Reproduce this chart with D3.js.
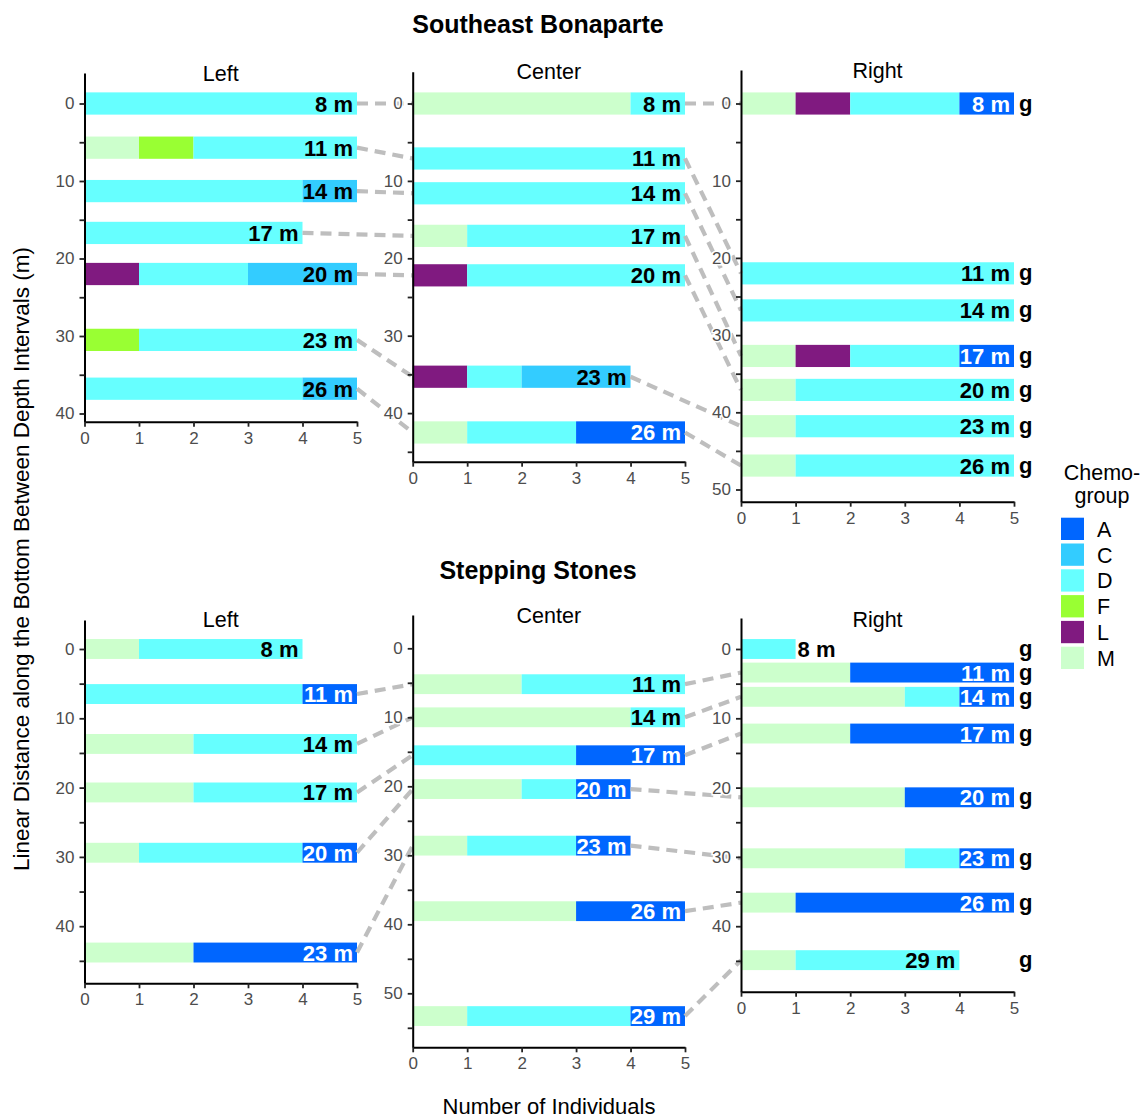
<!DOCTYPE html>
<html><head><meta charset="utf-8">
<script src="https://cdn.jsdelivr.net/npm/d3@7"></script>
<style>
body{margin:0;background:#fff}
text{font-family:"Liberation Sans",Arial,Helvetica,sans-serif}
</style>
</head><body>
<svg id="chart" width="1143" height="1119"></svg>
<script>
// ---------------- DATA ----------------
const chemogroups = ["A","C","D","F","L","M"];
const chemoColors = ["#0066FF","#33CCFF","#66FFFF","#99FF33","#801A80","#CCFFCC"];
const stackOrder = ["M","L","F","D","C","A"]; // order of the counts in each row below
const siteTitles = ["Southeast Bonaparte","Stepping Stones"];
const transectTitles = ["Left","Center","Right"];
const xTickValues = [0,1,2,3,4,5];

// Southeast Bonaparte
const sebLeftDepth = ["8 m","11 m","14 m","17 m","20 m","23 m","26 m"];
const sebLeftDist = [0,5.7,11.3,16.7,22.0,30.5,36.8];
const sebLeftCounts = [[0,0,0,5,0,0],[1,0,1,3,0,0],[0,0,0,4,1,0],[0,0,0,4,0,0],[0,1,0,2,2,0],[0,0,1,4,0,0],[0,0,0,4,1,0]];

const sebCenterDepth = ["8 m","11 m","14 m","17 m","20 m","23 m","26 m"];
const sebCenterDist = [0,7.1,11.6,17.1,22.2,35.3,42.5];
const sebCenterCounts = [[4,0,0,1,0,0],[0,0,0,5,0,0],[0,0,0,5,0,0],[1,0,0,4,0,0],[0,1,0,4,0,0],[0,1,0,1,2,0],[1,0,0,2,0,2]];

const sebRightDepth = ["8 m","11 m","14 m","17 m","20 m","23 m","26 m"];
const sebRightDist = [0,22.0,26.8,32.7,37.1,41.8,46.9];
const sebRightCounts = [[1,1,0,2,0,1],[0,0,0,5,0,0],[0,0,0,5,0,0],[1,1,0,2,0,1],[1,0,0,4,0,0],[1,0,0,4,0,0],[1,0,0,4,0,0]];
const sebRightNote = ["g","g","g","g","g","g","g"];

// Stepping Stones
const ssLeftDepth = ["8 m","11 m","14 m","17 m","20 m","23 m"];
const ssLeftDist = [0,6.5,13.7,20.7,29.4,43.8];
const ssLeftCounts = [[1,0,0,3,0,0],[0,0,0,4,0,1],[2,0,0,3,0,0],[2,0,0,3,0,0],[1,0,0,3,0,1],[2,0,0,0,0,3]];

const ssCenterDepth = ["11 m","14 m","17 m","20 m","23 m","26 m","29 m"];
const ssCenterDist = [5.2,10.0,15.5,20.4,28.6,38.1,53.3];
const ssCenterCounts = [[2,0,0,3,0,0],[4,0,0,1,0,0],[0,0,0,3,0,2],[2,0,0,1,0,1],[1,0,0,2,0,1],[3,0,0,0,0,2],[1,0,0,3,0,1]];

const ssRightDepth = ["8 m","11 m","14 m","17 m","20 m","23 m","26 m","29 m"];
const ssRightDist = [0,3.4,6.9,12.2,21.4,30.2,36.6,44.9];
const ssRightCounts = [[0,0,0,1,0,0],[2,0,0,0,0,3],[3,0,0,1,0,1],[2,0,0,0,0,3],[3,0,0,0,0,2],[3,0,0,1,0,1],[1,0,0,0,0,4],[1,0,0,3,0,0]];
const ssRightNote = ["g","g","g","g","g","g","g","g"];

// ---------------- LAYOUT ----------------
const panels = [
  {site:0, tr:0, depth:sebLeftDepth, dist:sebLeftDist, counts:sebLeftCounts, note:null,
   x:[84.5,357], top:73, bottom:421.7, zero:103.5, k:7.75, titleY:81},
  {site:0, tr:1, depth:sebCenterDepth, dist:sebCenterDist, counts:sebCenterCounts, note:null,
   x:[412.7,685], top:71.7, bottom:461.7, zero:103.5, k:7.74, titleY:78.5},
  {site:0, tr:2, depth:sebRightDepth, dist:sebRightDist, counts:sebRightCounts, note:sebRightNote,
   x:[741,1014], top:70, bottom:501.7, zero:103.5, k:7.72, titleY:77.5},
  {site:1, tr:0, depth:ssLeftDepth, dist:ssLeftDist, counts:ssLeftCounts, note:null,
   x:[84.5,357], top:620, bottom:983.3, zero:649, k:6.93, titleY:626.5},
  {site:1, tr:1, depth:ssCenterDepth, dist:ssCenterDist, counts:ssCenterCounts, note:null,
   x:[412.7,685], top:615, bottom:1047.3, zero:648.3, k:6.9, titleY:622.5},
  {site:1, tr:2, depth:ssRightDepth, dist:ssRightDist, counts:ssRightCounts, note:ssRightNote,
   x:[741,1014], top:618, bottom:991.7, zero:649, k:6.93, titleY:626.5}
];
const barThick = 2.87;
const color = d3.scaleOrdinal().domain(chemogroups).range(chemoColors);

const svg = d3.select("#chart");
svg.append("rect").attr("width",1143).attr("height",1119).attr("fill","#fff");

panels.forEach(p => {
  p.xs = d3.scaleLinear().domain([0,5]).range(p.x);
  p.ys = d3.scaleLinear().domain([(p.top-p.zero)/p.k,(p.bottom-p.zero)/p.k]).range([p.top,p.bottom]);
  p.rows = p.depth.map((d,i) => {
    let acc = 0;
    const segs = [];
    stackOrder.forEach((g,j) => {
      const v = p.counts[i][j];
      if (v>0){ segs.push({g, x0:acc, x1:acc+v}); acc += v; }
    });
    return {depth:d, dist:p.dist[i], segs, total:acc, last:segs[segs.length-1].g, note:p.note?p.note[i]:null};
  });
});

const gBars = svg.append("g");
const gLines = svg.append("g");
const gAxes = svg.append("g");
const gLabels = svg.append("g");

panels.forEach(p => {
  const g = gBars.append("g");
  p.rows.forEach(r => {
    g.selectAll(null).data(r.segs).enter().append("rect")
      .attr("x", s => p.xs(s.x0))
      .attr("width", s => p.xs(s.x1)-p.xs(s.x0))
      .attr("y", p.ys(r.dist - barThick/2))
      .attr("height", p.ys(r.dist + barThick/2) - p.ys(r.dist - barThick/2))
      .attr("fill", s => color(s.g));
  });

  // axes
  const dom = p.ys.domain();
  const yt = d3.range(0, dom[1]+0.001, 5);
  const ya = gAxes.append("g").attr("transform",`translate(${p.x[0]},0)`)
    .call(d3.axisLeft(p.ys).tickValues(yt).tickFormat(d => d%10===0 ? d : "").tickSize(5).tickSizeOuter(0).tickPadding(5));
  const xa = gAxes.append("g").attr("transform",`translate(0,${p.bottom})`)
    .call(d3.axisBottom(p.xs).tickValues(xTickValues).tickFormat(d3.format("d")).tickSize(5).tickSizeOuter(0).tickPadding(5));
  [ya,xa].forEach(a => {
    a.select(".domain").attr("stroke","#000").attr("stroke-width",2);
    a.selectAll(".tick line").attr("stroke","#222").attr("stroke-width",1.8);
    a.selectAll(".tick text").attr("fill","#4D4D4D").style("font-size","17px")
      .style("font-family","'Liberation Sans',Arial,sans-serif");
  });
  ya.selectAll(".tick text").attr("stroke","#fff").attr("stroke-width",3).style("paint-order","stroke");

  // panel title
  gLabels.append("text").attr("x",(p.x[0]+p.x[1])/2).attr("y",p.titleY)
    .attr("text-anchor","middle").style("font-size","21.5px").attr("fill","#000")
    .text(transectTitles[p.tr]);

  // bar labels
  p.rows.forEach(r => {
    const outside = r.total < 2;
    gLabels.append("text")
      .attr("x", outside ? p.xs(r.total)+2 : p.xs(r.total)-4)
      .attr("y", p.ys(r.dist)+8)
      .attr("text-anchor", outside ? "start" : "end")
      .style("font-size","22px").style("font-weight","bold")
      .attr("fill", (!outside && r.last==="A") ? "#fff" : "#000")
      .text(r.depth);
    if (r.note) {
      gLabels.append("text")
        .attr("x", p.xs(5)+5).attr("y", p.ys(r.dist)+7)
        .style("font-size","22px").style("font-weight","bold").attr("fill","#000")
        .text(r.note);
    }
  });
});

// connecting dashed lines
[0,1].forEach(site => {
  const ps = panels.filter(p => p.site===site).sort((a,b)=>a.tr-b.tr);
  for (let i=0;i<2;i++){
    const a = ps[i], b = ps[i+1];
    a.rows.forEach(r => {
      const m = b.rows.find(q => q.depth===r.depth);
      if (!m) return;
      gLines.append("line")
        .attr("x1", a.xs(r.total)).attr("y1", a.ys(r.dist))
        .attr("x2", b.xs(0)).attr("y2", b.ys(m.dist))
        .attr("stroke","#BEBEBE").attr("stroke-width",4.2)
        .attr("stroke-dasharray","11,7");
    });
  }
});

// site titles
gLabels.append("text").attr("x",538).attr("y",33).attr("text-anchor","middle")
  .style("font-size","25px").style("font-weight","bold").text(siteTitles[0]);
gLabels.append("text").attr("x",538).attr("y",579).attr("text-anchor","middle")
  .style("font-size","25px").style("font-weight","bold").text(siteTitles[1]);

// axis titles
gLabels.append("text").attr("transform","translate(29,559) rotate(-90)")
  .attr("text-anchor","middle").style("font-size","22.5px")
  .text("Linear Distance along the Bottom Between Depth Intervals (m)");
gLabels.append("text").attr("x",549).attr("y",1114).attr("text-anchor","middle")
  .style("font-size","22px").text("Number of Individuals");

// legend
const lg = svg.append("g");
lg.append("text").attr("x",1102).attr("y",480).attr("text-anchor","middle").style("font-size","21.5px").text("Chemo-");
lg.append("text").attr("x",1102).attr("y",503).attr("text-anchor","middle").style("font-size","21.5px").text("group");
chemogroups.forEach((c,i) => {
  const y = 517.7 + i*25.8;
  lg.append("rect").attr("x",1061).attr("y",y).attr("width",23).attr("height",22.3).attr("fill",color(c));
  lg.append("text").attr("x",1097).attr("y",y+19).style("font-size","21.5px").text(c);
});
</script>
</body></html>
